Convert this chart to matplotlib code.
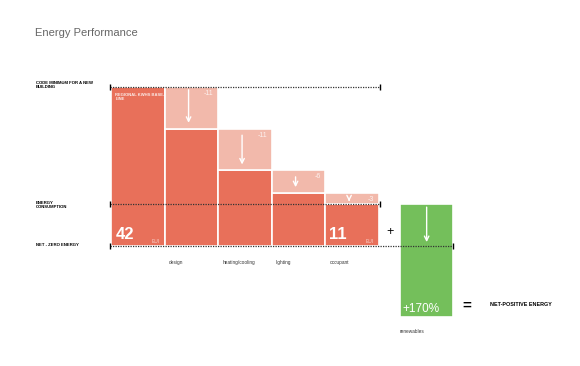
import matplotlib.pyplot as plt
import numpy as np

# values
categories = ["design", "heating/cooling", "lighting", "occupant"]
baseline = 42
savings = [11, 11, 6, 3]
saving_labels = ["-11", "-11", "-6", "-3"]
renewables_pct = 170

dark = "#E8705A"
light = "#F2B9AB"
green = "#74BF5B"

plt.rcParams['font.family'] = ['Liberation Sans', 'DejaVu Sans']

fig = plt.figure(figsize=(5.8, 3.66), dpi=100)
ax = fig.add_axes([0, 0, 1, 1])
# map the figure to data units: one bar = 1 unit wide, y in EUI
px_x, px_y = 53.5, 159 / 42
ax.set_xlim((0 - 111) / px_x - 0.5, (580 - 111) / px_x - 0.5)
ax.set_ylim((246 - 366) / px_y, 246 / px_y)
ax.axis("off")

# baseline bar
ax.bar(0, baseline, width=1, color=dark, edgecolor="white", linewidth=1.2, zorder=2)

level = baseline
for i, s in enumerate(savings):
    x = i + 1
    new = level - s
    ax.bar(x, new, width=1, color=dark, edgecolor="white", linewidth=1.2, zorder=2)
    ax.bar(x, s, bottom=new, width=1, color=light, edgecolor="white", linewidth=1.2, zorder=2)
    ax.annotate("", xy=(x - 0.05, new + 0.8), xytext=(x - 0.05, level - (0 if i == 0 else 1)),
                arrowprops=dict(arrowstyle="->", color="white", lw=1, mutation_scale=8), zorder=3)
    ax.text(x + 0.42, level - 0.8, saving_labels[i], color="white", alpha=0.8,
            fontsize=5, ha="right", va="top", zorder=3)
    level = new

remaining = level
gx = 5.4
gh = remaining * (1 + renewables_pct / 100)
ax.bar(gx, -gh, bottom=remaining, width=1, color=green, edgecolor="white", linewidth=1.2, zorder=2)
ax.annotate("", xy=(gx, 0.3), xytext=(gx, remaining),
            arrowprops=dict(arrowstyle="->", color="white", lw=1, mutation_scale=8), zorder=3)
ax.text(gx - 0.46, remaining - gh + 0.5, f"+{renewables_pct}%", color="white",
        fontsize=8.5, ha="left", va="bottom", zorder=3)

# reference lines
def ref_line(y, x1):
    ax.plot([-0.52, x1], [y, y], color="#333333", lw=0.9, ls=(0, (1, 1)), zorder=4)
    ax.plot([-0.52, x1], [y, y], ls="none", marker="|", color="black", ms=5, mew=1, zorder=4)

ref_line(baseline, 4.52)
ref_line(remaining, 4.52)
ref_line(0, 5.9)

# bar labels
ax.text(-0.42, 1.8, str(baseline), color="white", fontsize=12, fontweight="bold", zorder=3)
ax.text(3.58, 1.8, str(remaining), color="white", fontsize=12, fontweight="bold", zorder=3)
ax.text(0.25, 0.9, "EUI", color="white", alpha=0.7, fontsize=3.5, zorder=3)
ax.text(4.25, 0.9, "EUI", color="white", alpha=0.7, fontsize=3.5, zorder=3)
ax.text(-0.42, baseline - 1.5, "REGIONAL KWHS BASE-\nLINE", color="white", alpha=0.85,
        fontsize=3, fontweight="bold", va="top", linespacing=1.2, zorder=3)

for i, c in enumerate(categories):
    ax.text(i + 0.58, -4.4, c, fontsize=3.4, color="#333333", ha="left", va="center")
ax.text(gx - 0.5, -22.6, "renewables", fontsize=3.4, color="#333333", ha="left", va="center")

ax.text(4.72, 3.6, "+", fontsize=9, ha="center", va="center")
ax.text(6.15, -15.7, "=", fontsize=11, fontweight="bold", ha="center", va="center")
fig.text(490 / 580, 1 - 304 / 366, "NET-POSITIVE ENERGY", fontsize=3.9, fontweight="bold",
         ha="left", va="center")

# left labels
fig.text(36 / 580, 1 - 81 / 366, "CODE MINIMUM FOR A NEW\nBUILDING", fontsize=3.1,
         fontweight="bold", va="top", linespacing=1.15)
fig.text(36 / 580, 1 - 201 / 366, "ENERGY\nCONSUMPTION", fontsize=3.1,
         fontweight="bold", va="top", linespacing=1.15)
fig.text(36 / 580, 1 - 245 / 366, "NET - ZERO ENERGY", fontsize=3.1,
         fontweight="bold", va="center")

fig.text(35 / 580, 1 - 33 / 366, "Energy Performance", fontsize=8, color="#666666",
         va="center")

fig.savefig("out.png", dpi=100)
